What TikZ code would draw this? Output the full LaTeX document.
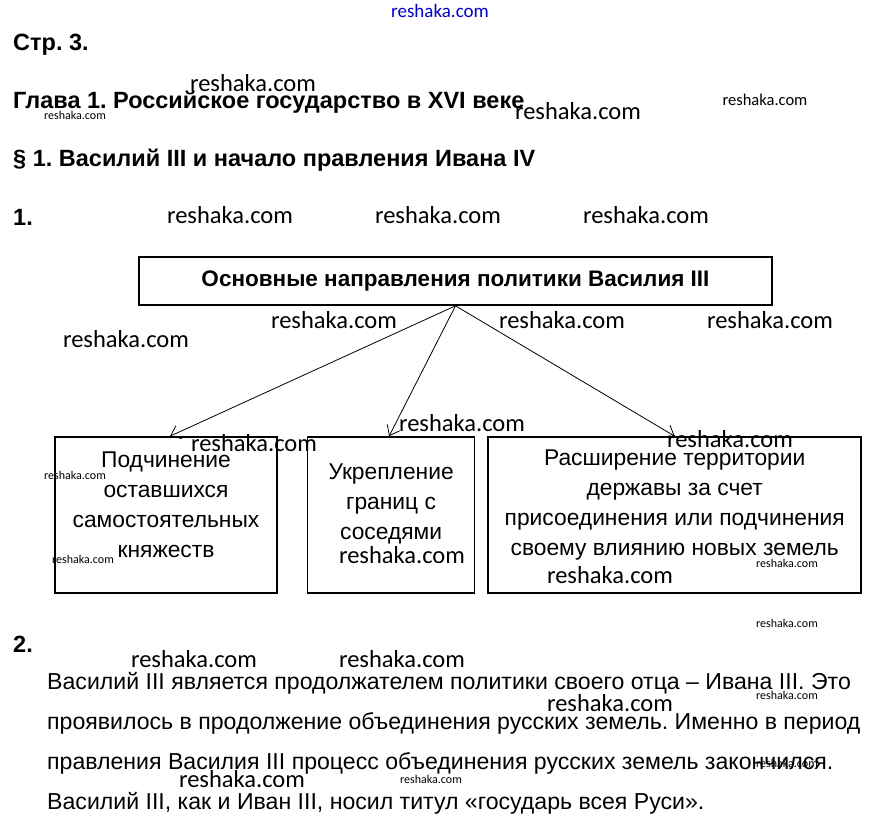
\documentclass[tikz,border=0pt]{standalone}
\usepackage{fontspec}
\setmainfont{Liberation Sans}
\newfontfamily\wmfont{Carlito}
\usepackage{xcolor}
\usetikzlibrary{arrows.meta,positioning}
\frenchspacing

\begin{document}
\begin{tikzpicture}[
x=1pt, y=-1pt,
head/.style={anchor=base west, inner sep=0pt, font=\fontsize{23.5}{27}\selectfont\bfseries},
frame/.style={draw, line width=1.6pt, minimum height=156pt, inner sep=0pt},
boxtxt/.style={align=center, inner sep=0pt, font=\fontsize{22.8}{30}\selectfont},
para/.style={anchor=base west, inner sep=0pt, font=\fontsize{23.1}{27}\selectfont},
wm/.style={inner sep=0pt, font=\wmfont\fontsize{24.5}{28}\selectfont},
wmmid/.style={inner sep=0pt, font=\wmfont\fontsize{16.5}{19}\selectfont},
wmsmall/.style={inner sep=0pt, font=\wmfont\fontsize{12}{14}\selectfont},
arr/.style={-{Straight Barb[length=9pt,width=14pt]}, line width=0.8pt}
]
\useasboundingbox (0,0) rectangle (879,836);
\fill[white] (0,0) rectangle (879,836);

% headings
\node[head] (page) at (13,50) {Стр. 3.};
\node[head] (chap) at (13,108) {Глава 1. Российское государство в XVI веке};
\node[head] (sect) at (13,166) {§ 1. Василий III и начало правления Ивана IV};
\node[head] (q1) at (13,225) {1.};
\node[head] (q2) at (13,652) {2.};

% scheme
\node[draw, line width=1.6pt, minimum width=633pt, minimum height=48pt, font=\fontsize{22.5}{26}\selectfont\bfseries] (main) at (455.5,281) {Основные направления политики Василия III};
\node[frame, minimum width=222pt] (sub) at (166,515) {};
\node[frame, minimum width=167pt, right=29pt of sub] (bord) {};
\node[frame, minimum width=373pt, right=12pt of bord] (land) {};
\node[boxtxt] (subtxt) at ([yshift=10pt]sub.center) {Подчинение\\ оставшихся\\ самостоятельных\\ княжеств};
\node[boxtxt] (bordtxt) at ([yshift=11pt]bord.center) {Укрепление\\ границ с\\ соседями};
\node[boxtxt] (landtxt) at ([yshift=10pt]land.center) {Расширение территории\\ державы за счет\\ присоединения или подчинения\\ своему влиянию новых земель};
\draw[arr] (main.south) -- ([xshift=4pt]sub.north);
\draw[arr] (main.south) -- ([xshift=-2pt]bord.north);
\draw[arr] (main.south) -- (land.north);

% answer 2
\node[para] (l1) at (47,689) {Василий III является продолжателем политики своего отца – Ивана III. Это};
\node[para] (l2) at (47,729) {проявилось в продолжение объединения русских земель. Именно в период};
\node[para] (l3) at (47,769) {правления Василия III процесс объединения русских земель закончился.};
\node[para] (l4) at (47,809) {Василий III, как и Иван III, носил титул «государь всея Руси».};

% watermarks
\node[wmmid, font=\wmfont\fontsize{19}{22}\selectfont, text=blue!80!black] (wm0) at (440,11) {reshaka.com};
\foreach \x/\y [count=\i] in {253/83, 578/111, 230/215, 438/215, 646/215, 334/320, 562/320, 770/320, 126/339, 462/423, 254/443, 730/439, 402/555, 610/575, 194/659, 402/659, 610/703, 242/779}
  \node[wm] (wmb\i) at (\x,\y) {reshaka.com};
\node[wmmid] (wmm1) at (765,100) {reshaka.com};
\foreach \x/\y [count=\i] in {75/115, 75/475, 83/559, 787/563, 787/623, 787/695, 787/763, 431/779}
  \node[wmsmall] (wms\i) at (\x,\y) {reshaka.com};
\end{tikzpicture}
\end{document}
